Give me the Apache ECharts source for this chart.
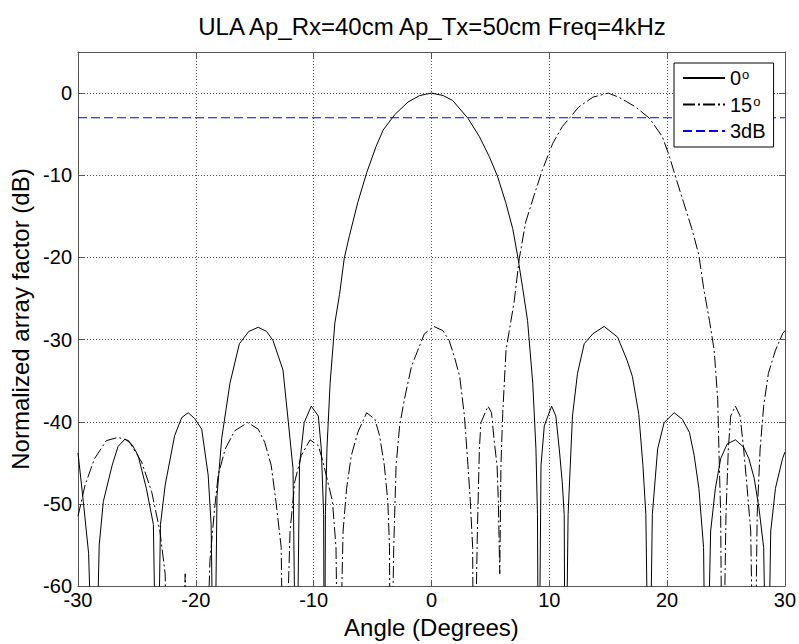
<!DOCTYPE html>
<html>
<head>
<meta charset="utf-8">
<script src="https://cdn.jsdelivr.net/npm/echarts@6/dist/echarts.min.js"></script>
<style>
html,body{margin:0;padding:0;background:#fff;}
#chart{width:799px;height:644px;}
</style>
</head>
<body>
<div id="chart"></div>
<script>
// ---- data ----
const titleText = 'ULA Ap_Rx=40cm Ap_Tx=50cm Freq=4kHz';
const xName = 'Angle (Degrees)';
const yName = 'Normalized array factor (dB)';
const seriesNames = ['0°', '15°', '3dB'];

const angle0 = [-30, -29.55, -29.1, -28.6, -28.2, -27.85, -27.1, -26.6, -26.0, -25.4, -24.9, -24.2, -23.6, -23.3,
  -23.0, -22.6, -21.8, -21.2, -20.65, -20.1, -19.5, -18.95, -18.7, -18.45,
  -18.2, -17.8, -17.1, -16.3, -15.5, -14.7, -14.0, -13.45, -12.6, -12.2, -11.75, -11.47,
  -11.2, -10.8, -10.2, -9.6, -9.35, -9.15, -9.08,
  -9.0, -8.87, -8.6, -8.2, -7.8, -7.4, -6.95, -6.25, -5.5, -4.7, -4.1, -3.1, -2.0, -1.0, 0,
  1.0, 1.8, 3.1, 4.07, 4.9, 5.6, 6.3, 6.9, 7.3, 7.74, 8.16, 8.6, 8.87, 9.0, 9.1,
  9.3, 9.58, 10.2, 10.56, 10.85, 11.1, 11.27, 11.36,
  11.6, 11.97, 12.4, 12.97, 13.7, 14.66, 15.8, 16.6, 17.06, 17.6, 17.95, 18.2, 18.47,
  18.75, 19.2, 19.75, 20.6, 21.3, 21.9, 22.3, 22.7, 23.1, 23.3,
  23.7, 24.1, 24.55, 25.1, 25.8, 26.5, 26.95, 27.4, 27.8, 28.2, 28.5,
  28.8, 29.2, 29.8, 30];
const af0 = [-43.8, -49.7, -56, -80, -55, -49.7, -45.3, -43, -42.1, -42.8, -44.1, -48.1, -52.5, -80,
  -52.5, -47.7, -41.7, -39.5, -38.9, -39.6, -40.9, -46.5, -52.5, -80,
  -49, -42, -35.3, -30.5, -29, -28.5, -29, -30.1, -33.7, -39.3, -45.7, -80,
  -45.3, -40.1, -38.1, -39.3, -43.3, -51.3, -80,
  -51.3, -43.3, -35.3, -28, -24.5, -20.1, -17.3, -13.3, -9.7, -6.5, -4.5, -2.6, -1.1, -0.3, 0,
  -0.3, -0.9, -3.07, -5.3, -7.7, -10.1, -13.3, -16.5, -19.7, -23.7, -27.7, -35.3, -43.3, -51.3, -80,
  -45.3, -40.5, -38.1, -39.3, -43.3, -47.3, -51.3, -80,
  -51.3, -39.3, -34.1, -30.5, -29.3, -28.4, -29.7, -32.5, -34.5, -39.1, -45.3, -51.3, -80,
  -51.3, -43.3, -40.1, -38.9, -39.7, -41.3, -44.1, -48.1, -55.3, -80,
  -53.3, -48.1, -44.5, -42.7, -42.2, -43.1, -44.5, -46.9, -50.5, -55.3, -80,
  -53.3, -48.1, -44.5, -43.7];

const angle15 = [-30, -29.4, -28.6, -27.6, -26.6, -25.7, -24.6, -23.75, -23.05, -22.6, -22.4,
  -21.5, -20.9, -20.3,
  -19.3, -18.8, -18.4, -18.1, -17.5, -16.7, -15.6, -14.7, -14.15, -13.6, -13.2, -12.75, -12.55,
  -12.0, -11.6, -11.05, -10.3, -9.6, -9.2, -8.8, -8.4, -8.1, -7.9,
  -7.5, -7.2, -6.8, -6.25, -5.5, -4.8, -4.4, -4.0, -3.7, -3.56, -3.47,
  -3.2, -3.0, -2.7, -2.3, -1.7, -1.16, -0.6, 0.2, 0.96, 1.5, 1.95, 2.4, 2.8, 3.1, 3.3, 3.5, 3.58,
  3.9, 4.07, 4.2, 4.8, 5.1, 5.34, 5.57, 5.68, 5.8,
  5.9, 6.05, 6.33, 6.6, 7.03, 7.46, 8.0, 8.7, 9.43, 10.3, 11.1, 11.7, 12.5, 13.7, 15,
  15.9, 17.35, 18.5, 19.6, 20.2, 20.7, 21.4, 22.1, 22.7, 23.1, 23.6, 24.0, 24.3, 24.4, 24.55, 24.7,
  25.0, 25.2, 25.4, 25.8, 26.2, 26.5, 26.8, 27.1, 27.4,
  27.65, 27.9, 28.2, 28.6, 29.2, 29.8, 30];
const af15 = [-51.5, -47.7, -44.5, -42.3, -41.9, -42.3, -44.9, -48.5, -53.3, -58.5, -80,
  -80, -58.5, -80,
  -80, -56.9, -50.5, -46.5, -43.3, -41.1, -40.1, -40.9, -42.5, -45.3, -49.7, -55.3, -80,
  -53.3, -47.3, -44.1, -42.2, -42.9, -44.9, -47.3, -49.7, -55.3, -80,
  -53.3, -48.1, -44.1, -41.3, -38.9, -39.7, -41.7, -45.3, -49.7, -55.3, -80,
  -55.3, -45.3, -40.5, -37.3, -33.3, -31.3, -29.3, -28.4, -28.9, -30.1, -32.1, -34.5, -39.3, -45.3, -49.7, -55.3, -80,
  -53.3, -43.3, -40.1, -38.1, -38.9, -42.5, -45.3, -49.7, -58.5,
  -45.3, -39, -31.3, -29, -25.3, -20.1, -15.7, -12.5, -9.3, -6.1, -4.1, -3.07, -1.7, -0.5, 0,
  -0.5, -1.7, -3.07, -5.3, -7.7, -10.1, -13.3, -16.5, -19.7, -23.7, -27.7, -31.3, -37.3, -43.3, -51.3, -80,
  -51.3, -43.3, -39.3, -38.1, -39.3, -43.3, -48.1, -53.3, -80,
  -51.3, -43.3, -38.1, -34.1, -31.3, -29.3, -28.9];

const angle3dB = [-30, 30];
const af3dB = [-3, -3];

const xMin = -30, xMax = 30, xStep = 10;
const yMin = -60, yMax = 5, yStep = 10;

// ---- chart ----
const zip = (xs, ys) => xs.map((x, i) => [x, ys[i]]);
const FONT = "'Liberation Sans', Arial, Helvetica, sans-serif";
const axisCol = '#555';

const chart = echarts.init(document.getElementById('chart'), null, {renderer: 'svg'});
const baseX = {
  type: 'value', min: xMin, max: xMax, interval: xStep,
  axisLine: {show: true, onZero: false, lineStyle: {color: axisCol, width: 1}},
  axisTick: {show: true, inside: true, length: 6, lineStyle: {color: axisCol}}
};
const baseY = {
  type: 'value', min: yMin, max: yMax, interval: yStep,
  axisLine: {show: true, onZero: false, lineStyle: {color: axisCol, width: 1}},
  axisTick: {show: true, inside: true, length: 6, lineStyle: {color: axisCol}}
};
const option = {
  animation: false,
  backgroundColor: '#fff',
  textStyle: {fontFamily: FONT},
  title: {
    text: titleText, left: 432, top: 14, padding: 0, textAlign: 'center',
    textStyle: {fontFamily: FONT, fontSize: 24, fontWeight: 'normal', color: '#000'}
  },
  grid: {left: 78, right: 13, top: 52, bottom: 52, containLabel: false},
  legend: {
    orient: 'vertical', left: 674, top: 63,
    padding: [5, 8, 6, 8], itemGap: 5.5, itemWidth: 42, itemHeight: 2,
    backgroundColor: '#fff', borderColor: '#000', borderWidth: 1,
    itemStyle: {opacity: 0, borderWidth: 0},
    data: seriesNames,
    formatter: function (name) {
      if (name === '3dB') return name;
      return name.replace('°', '') + '{s|o}';
    },
    textStyle: {
      fontFamily: FONT, fontSize: 20, lineHeight: 20, color: '#000',
      rich: {s: {fontFamily: FONT, fontSize: 13, lineHeight: 20, verticalAlign: 'top', color: '#000', padding: [0, 0, 8, 1]}}
    }
  },
  xAxis: [
    Object.assign({}, baseX, {
      position: 'bottom',
      name: xName, nameLocation: 'middle', nameGap: 23,
      nameTextStyle: {fontFamily: FONT, fontSize: 24, color: '#000'},
      axisLabel: {show: true, margin: 4, fontFamily: FONT, fontSize: 20, color: '#000'},
      splitLine: {show: true, showMinLine: false, showMaxLine: false, lineStyle: {color: '#555', type: [1, 2], width: 1}}
    }),
    Object.assign({}, baseX, {
      position: 'top', axisLabel: {show: false}, splitLine: {show: false}
    })
  ],
  yAxis: [
    Object.assign({}, baseY, {
      position: 'left',
      name: yName, nameLocation: 'middle', nameGap: 38, nameRotate: 90,
      nameTextStyle: {fontFamily: FONT, fontSize: 24, color: '#000'},
      axisLabel: {show: true, margin: 6, fontFamily: FONT, fontSize: 20, color: '#000', showMaxLabel: false},
      splitLine: {show: true, showMinLine: false, showMaxLine: false, lineStyle: {color: '#555', type: [1, 2], width: 1}}
    }),
    Object.assign({}, baseY, {
      position: 'right', axisLabel: {show: false}, splitLine: {show: false}
    })
  ],
  series: [
    {
      name: seriesNames[0], type: 'line', xAxisIndex: 0, yAxisIndex: 0,
      data: zip(angle0, af0), symbol: 'none', showSymbol: false, clip: true,
      lineStyle: {color: '#000', width: 1, type: 'solid'}, itemStyle: {color: '#000'}, z: 3
    },
    {
      name: seriesNames[1], type: 'line', xAxisIndex: 0, yAxisIndex: 0,
      data: zip(angle15, af15), symbol: 'none', showSymbol: false, clip: true,
      lineStyle: {color: '#000', width: 1, type: [12, 3, 2, 3]}, itemStyle: {color: '#000'}, z: 3
    },
    {
      name: seriesNames[2], type: 'line', xAxisIndex: 0, yAxisIndex: 0,
      data: zip(angle3dB, af3dB), symbol: 'none', showSymbol: false, clip: true,
      lineStyle: {color: '#0000ff', width: 1, type: [9, 4]}, itemStyle: {color: '#0000ff'}, z: 3
    }
  ]
};
chart.setOption(option);
</script>
</body>
</html>
